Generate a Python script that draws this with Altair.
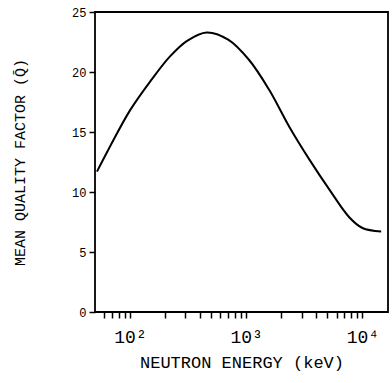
import altair as alt
import pandas as pd

# Mean quality factor versus neutron energy
energy_kev = [52, 67, 100, 149, 221, 310, 457, 700, 1060, 1580, 2360, 3500, 5200, 7700, 10000, 14500]
mean_q = [11.7, 13.75, 16.8, 19.2, 21.3, 22.6, 23.3, 22.7, 21.0, 18.5, 15.4, 12.7, 10.2, 7.9, 7.0, 6.7]

x_ticks = [60, 70, 80, 90, 100, 200, 300, 400, 500, 600, 700, 800, 900, 1000,
           2000, 3000, 4000, 5000, 6000, 7000, 8000, 9000, 10000]
y_ticks = [0, 5, 10, 15, 20, 25]

df = pd.DataFrame({"energy": energy_kev, "q": mean_q})

FONT = "Liberation Mono"

chart = alt.Chart(df).mark_line(color="black", strokeWidth=2, interpolate="catmull-rom").encode(
    x=alt.X("energy:Q",
            scale=alt.Scale(type="log", domain=[50, 16600], nice=False),
            axis=alt.Axis(title="NEUTRON ENERGY (keV)", values=x_ticks,
                          labelExpr="datum.value == 100 ? '10²' : datum.value == 1000 ? '10³' : datum.value == 10000 ? '10⁴' : ''",
                          grid=False, tickSize=6, tickColor="black", tickWidth=1.5,
                          domain=False, labelFontSize=18, labelFont=FONT,
                          labelColor="black", labelPadding=10,
                          titleFont=FONT, titleFontSize=17, titleFontWeight="normal",
                          titleColor="black", titlePadding=8)),
    y=alt.Y("q:Q",
            scale=alt.Scale(domain=[0, 25], nice=False),
            axis=alt.Axis(title="MEAN QUALITY FACTOR (Q\u0304)", values=y_ticks,
                          grid=False, tickSize=6, tickColor="black", tickWidth=1.5,
                          domain=False, labelFontSize=12, labelFont=FONT,
                          labelColor="black", labelPadding=3,
                          titleFont=FONT, titleFontSize=15, titleFontWeight="normal",
                          titleColor="black", titlePadding=44)),
).properties(
    width=293, height=300,
    background="white",
    autosize=alt.AutoSizeParams(type="none"),
    padding={"left": 95, "top": 12, "right": 4, "bottom": 71},
).configure_view(
    stroke="black", strokeWidth=1.8
)

chart.save("out.html", embed_options={"renderer": "svg", "actions": False})
